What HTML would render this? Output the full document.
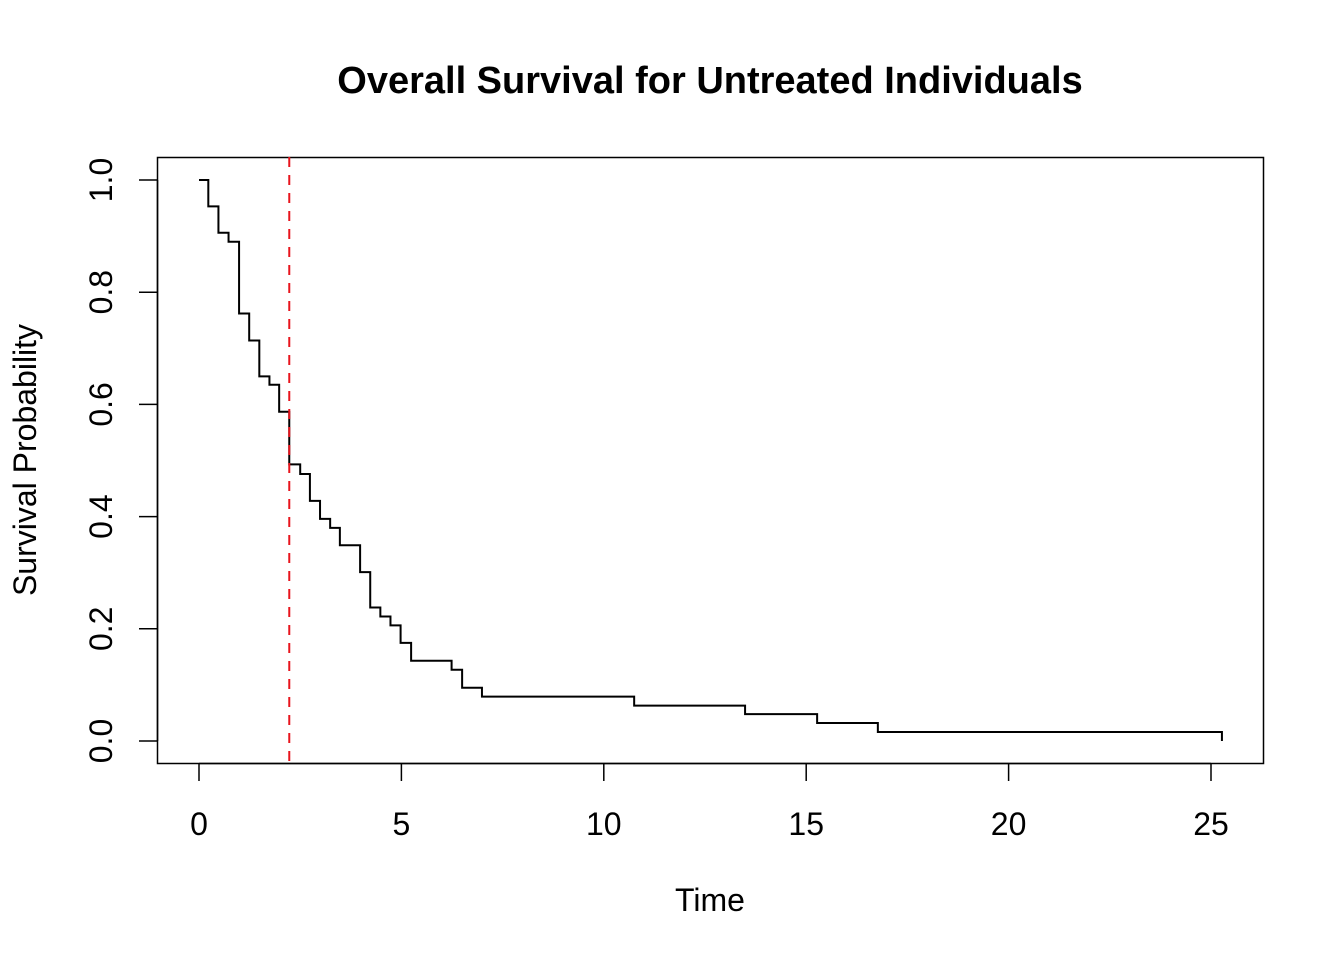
<!DOCTYPE html>
<html><head><meta charset="utf-8"><style>
html,body{margin:0;padding:0;background:#fff}
svg{display:block}
text{font-family:"Liberation Sans",Arial,sans-serif;fill:#000}
</style></head><body>
<svg id="chart" width="1344" height="960" xmlns="http://www.w3.org/2000/svg">
<text x="710" y="93" text-anchor="middle" font-size="38" font-weight="bold">Overall Survival for Untreated Individuals</text>
<rect x="157.5" y="157.5" width="1106" height="606" fill="none" stroke="#000" stroke-width="1.5"/>
<text x="710" y="911" text-anchor="middle" font-size="32">Time</text>
<text transform="translate(36,460) rotate(-90)" text-anchor="middle" font-size="32">Survival Probability</text>
<g id="ticks"></g>
<g id="marks"></g>
</svg>
<script>
const times = [0,0.23,0.48,0.73,0.99,1.24,1.49,1.74,1.98,2.23,2.50,2.74,2.99,3.24,3.48,3.98,4.23,4.48,4.73,4.98,5.24,6.24,6.50,6.99,10.75,13.49,15.27,16.77,25.27];
const survival = [1,0.953,0.906,0.890,0.762,0.714,0.650,0.635,0.587,0.493,0.476,0.428,0.396,0.380,0.349,0.301,0.238,0.222,0.206,0.175,0.143,0.127,0.095,0.079,0.063,0.048,0.032,0.016,0];
const xTicks = [0,5,10,15,20,25];
const yTicks = [0,0.2,0.4,0.6,0.8,1.0];
const yTickLabels = ["0.0","0.2","0.4","0.6","0.8","1.0"];
const medianLine = 2.23;

const NS="http://www.w3.org/2000/svg";
function sx(t){return 199+t*(1211-199)/25;}
function sy(v){return 741-v*(741-180);}
function mk(tag,attrs,parent){const e=document.createElementNS(NS,tag);for(const k in attrs)e.setAttribute(k,attrs[k]);parent.appendChild(e);return e;}
const tg=document.getElementById('ticks');
const mg=document.getElementById('marks');
mk('line',{x1:sx(xTicks[0]),x2:sx(xTicks[xTicks.length-1]),y1:763.5,y2:763.5,stroke:'#000','stroke-width':1.5},tg);
xTicks.forEach(t=>{
  const l=mk('line',{x1:sx(t),x2:sx(t),y1:763,y2:781,stroke:'#000','stroke-width':1.5},tg);
  
  
  const tx=mk('text',{x:sx(t),y:835,'text-anchor':'middle','font-size':32},tg);
  tx.textContent=t;
  
  
});
mk('line',{x1:157.5,x2:157.5,y1:sy(yTicks[0]),y2:sy(yTicks[yTicks.length-1]),stroke:'#000','stroke-width':1.5},tg);
yTicks.forEach((v,i)=>{
  const l=mk('line',{x1:139,x2:157,y1:sy(v),y2:sy(v),stroke:'#000','stroke-width':1.5},tg);
  
  
  const tx=mk('text',{transform:`translate(112,${sy(v)}) rotate(-90)`,'text-anchor':'middle','font-size':32},tg);
  tx.textContent=yTickLabels[i];
  
  
});
let d=`M${sx(times[0])},${sy(survival[0])}`;
for(let i=1;i<times.length;i++){d+=` H${sx(times[i])} V${sy(survival[i])}`;}
const p=mk('path',{d:d,fill:'none',stroke:'#000','stroke-width':2},mg);


const ml=mk('line',{x1:sx(medianLine),x2:sx(medianLine),y1:157,y2:763,stroke:'#e8141c','stroke-width':2,'stroke-dasharray':'10,8'},mg);


</script>
</body></html>
